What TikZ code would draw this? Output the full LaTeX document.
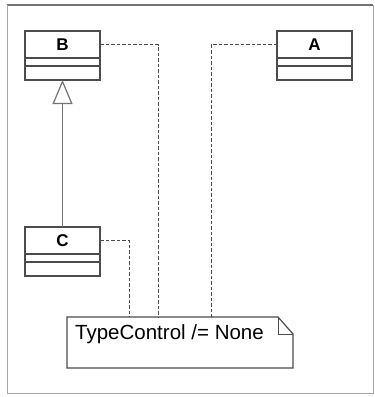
\documentclass[tikz,border=0pt]{standalone}
\usepackage{fontspec}
\setmainfont{Liberation Sans}
\usepackage{tikz}
\usetikzlibrary{arrows.meta, positioning}

\begin{document}
\begin{tikzpicture}[
    x=1pt, y=-1pt,
    % class boxes: name part plus two empty compartments
    classname/.style = {rectangle, draw=black!70, line width=1.2pt, fill=white, minimum width=75pt, minimum height=27pt, inner sep=0pt, outer sep=0pt, font=\fontsize{17}{17}\selectfont\bfseries},
    compart/.style = {rectangle, draw=black!70, line width=1.2pt, minimum width=75pt, inner sep=0pt, outer sep=0pt},
    inherit/.style = {draw=black!55, line width=1.8pt, -{Triangle[open, width=20pt, length=24pt, line width=1.2pt]}},
    anchorline/.style = {draw=black!70, line width=1pt, dash pattern=on 3.5pt off 2pt},
    notebox/.style = {rectangle, minimum width=226pt, minimum height=51pt, inner sep=0pt, outer sep=0pt},
    notetext/.style = {anchor=north west, inner sep=0pt, font=\fontsize{20.5}{20.5}\selectfont}
]
    \useasboundingbox (0,0) rectangle (375,397);

    % 1. Frame around the whole diagram
    \draw[black!55, line width=1.2pt] (7,5) -- (373,5);
    \draw[black!35, line width=1pt] (373,5) -- (373,393) -- (7,393) -- (7,5);

    % 2. Classes
    \foreach \n/\t/\x/\y in {b/B/25/31, a/A/277/31, c/C/25/227} {
        \node[classname, anchor=north west] (\n) at (\x,\y) {\t};
        \node[compart, minimum height=8pt, below=0pt of \n] (\n2) {};
        \node[compart, minimum height=14pt, below=0pt of \n2] (\n3) {};
    }

    % 3. Generalisation C -> B
    \draw[inherit] (c.north) -- (b3.south);

    % 4. Note with folded corner
    \node[notebox, anchor=north west] (note) at (67,317) {};
    \draw[black!70, line width=1.2pt] (note.north west) -- ([xshift=-15pt]note.north east)
        -- ([yshift=-17pt]note.north east) -- (note.south east) -- (note.south west) -- cycle;
    \draw[black!70, line width=1pt] ([xshift=-15pt]note.north east) |- ([yshift=-17pt]note.north east);
    \node[notetext] (notelbl) at ([shift={(8pt,-7pt)}]note.north west) {TypeControl /= None};

    % 5. Dashed anchor lines to the note
    \draw[anchorline] (b.east) -| ([xshift=91pt]note.north west);
    \draw[anchorline] (a.west) -| ([xshift=144pt]note.north west);
    \draw[anchorline] (c.east) -| ([xshift=62pt]note.north west);

\end{tikzpicture}
\end{document}
